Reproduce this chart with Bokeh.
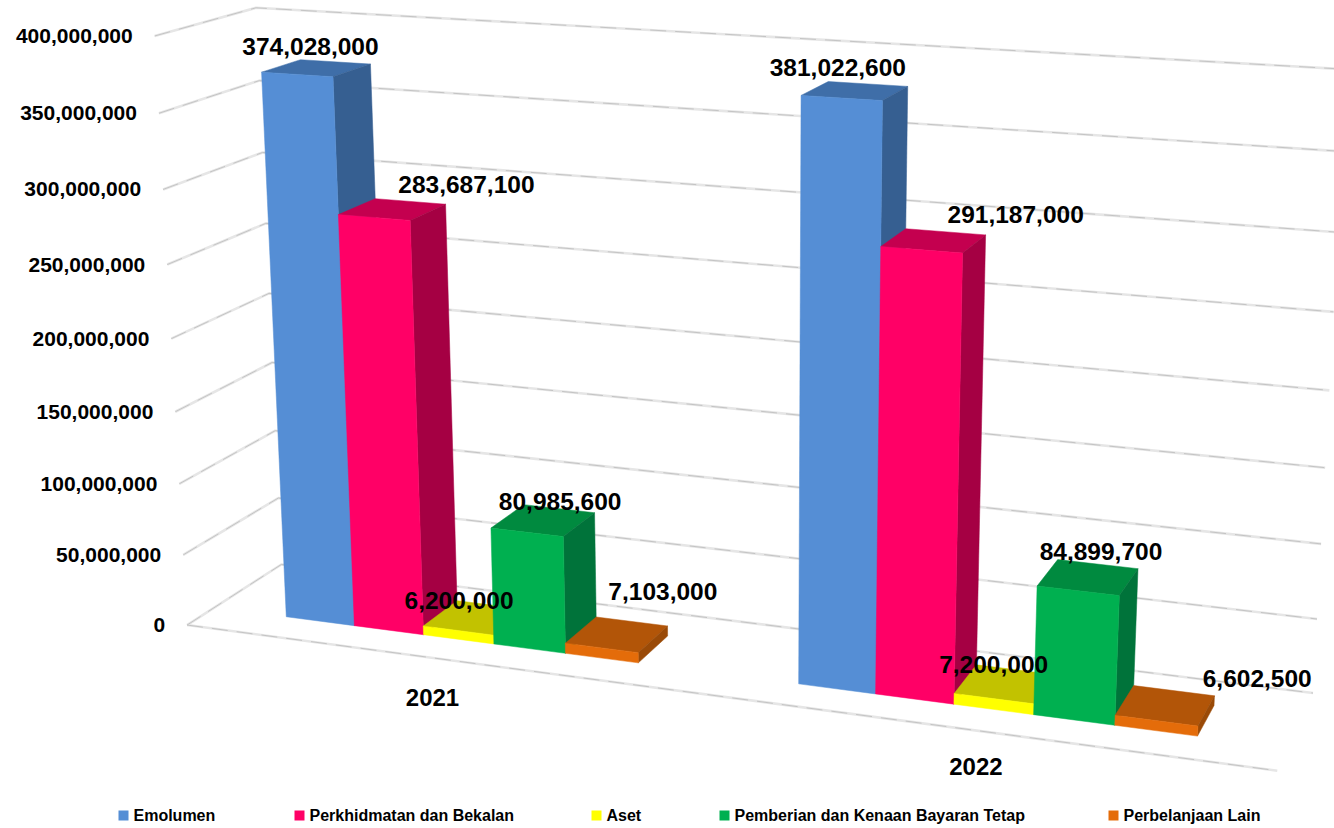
import numpy as np
from bokeh.plotting import figure
from bokeh.models import Range1d
from bokeh.core.properties import value
from bokeh.embed import file_html
from bokeh.resources import INLINE

categories = ["2021", "2022"]
series = ["Emolumen", "Perkhidmatan dan Bekalan", "Aset", "Pemberian dan Kenaan Bayaran Tetap", "Perbelanjaan Lain"]
emolumen = [374028000, 381022600]
perkhidmatan = [283687100, 291187000]
aset = [6200000, 7200000]
pemberian = [80985600, 84899700]
lain = [7103000, 6602500]
all_values = [emolumen, perkhidmatan, aset, pemberian, lain]
ticks = [0, 50000000, 100000000, 150000000, 200000000, 250000000, 300000000, 350000000, 400000000]
y_max = 400000000

front_colors = ["#558ed5", "#ff0066", "#ffff00", "#00b050", "#e46c0a"]
top_colors = ["#3f6ea8", "#c4004f", "#c2c200", "#008a3f", "#b25508"]
side_colors = ["#365f91", "#a50043", "#a5a500", "#00733a", "#9a4a07"]

margin, bar_w = 0.15, 0.14
d0, d1 = 0.28, 0.68

# camera calibration: (category axis, depth, value fraction) -> page pixel
cal_world = [(0, 0, 0), (0, 0, 1), (0, 1, 1), (0, 1, 0), (2, 0, 0), (2, 1, 0), (2, 1, 1),
             (margin, d0, emolumen[0] / y_max), (margin, d0, 0),
             (1 + margin, d0, emolumen[1] / y_max), (1 + margin, d0, 0),
             (1 + margin + 5 * bar_w, d0, 0), (margin + 5 * bar_w, d0, 0)]
cal_page = [(185, 626), (153, 35), (253, 9), (282, 560), (1277, 769), (1314, 696), (1345, 68),
            (264, 72), (287, 617), (803, 94), (798, 685), (1195, 733), (637, 663)]
rows = []
for (a, b, c), (u, v) in zip(cal_world, cal_page):
    rows.append([a, b, c, 1, 0, 0, 0, 0, -u * a, -u * b, -u * c, -u])
    rows.append([0, 0, 0, 0, a, b, c, 1, -v * a, -v * b, -v * c, -v])
P = np.linalg.svd(np.array(rows, float))[2][-1].reshape(3, 4)


def proj(a, d, val):
    h = P @ np.array([a, d, val / y_max, 1.0])
    return h[0] / h[2], h[1] / h[2]


p = figure(width=1334, height=828, output_backend="svg", toolbar_location=None,
           x_range=Range1d(0, 1334), y_range=Range1d(828, 0), min_border=0)
p.axis.visible = False
p.grid.visible = False
p.outline_line_color = None

# gridlines
gx, gy = [], []
for t in ticks:
    pts = [proj(0, 0, t), proj(0, 1, t), proj(2, 1, t)]
    gx.append([q[0] for q in pts])
    gy.append([q[1] for q in pts])
pts = [proj(0, 0, 0), proj(2, 0, 0)]
gx.append([q[0] for q in pts])
gy.append([q[1] for q in pts])
p.multi_line(gx, gy, line_color="#e6e6e6", line_width=2.6)
p.multi_line(gx, gy, line_color="#c4c4c4", line_width=1, line_dash="16 9")

# bars
for g in range(2):
    for s in range(5):
        v = all_values[s][g]
        x0 = g + margin + s * bar_w
        x1 = x0 + bar_w
        faces = [
            ([(x0, d0, v), (x0, d1, v), (x1, d1, v), (x1, d0, v)], top_colors[s]),
            ([(x1, d0, 0), (x1, d1, 0), (x1, d1, v), (x1, d0, v)], side_colors[s]),
            ([(x0, d0, 0), (x1, d0, 0), (x1, d0, v), (x0, d0, v)], front_colors[s]),
        ]
        for corners, col in faces:
            q = [proj(*c) for c in corners]
            p.patch([a[0] for a in q], [a[1] for a in q], fill_color=col, line_color=col, line_width=0.5)

# data labels
label_dx = [[-6, 74, -16, 17, 46], [-17, 82, -11, 13, 92]]
label_dy = [[-22, -25, -17, -19, -43], [-23, -26, -20, -26, -27]]
lx, ly, lt = [], [], []
for g in range(2):
    for s in range(5):
        v = all_values[s][g]
        x0 = g + margin + s * bar_w
        cx, cy = proj(x0 + bar_w / 2, (d0 + d1) / 2, v)
        lx.append(cx + label_dx[g][s])
        ly.append(cy + label_dy[g][s])
        lt.append(f"{v:,}")
FONT = "Liberation Sans"
p.text(lx, ly, text=lt, text_font=value(FONT), text_font_style="bold", text_font_size="24.5px",
       text_align="center", text_baseline="middle", text_color="#000000")

# value-axis labels
p.text([proj(0, 0, t)[0] - 22 for t in ticks], [proj(0, 0, t)[1] for t in ticks], text=[f"{t:,}" for t in ticks],
       text_font=value(FONT), text_font_style="bold", text_font_size="21px",
       text_align="right", text_baseline="middle", text_color="#000000")

# category labels
cat_dy = [39, 36]
cq = [proj(g + 0.5, 0, 0) for g in range(2)]
p.text([q[0] - 2 for q in cq], [q[1] + cat_dy[i] for i, q in enumerate(cq)], text=categories, text_font=value(FONT),
       text_font_style="bold", text_font_size="24px", text_align="center", text_baseline="middle", text_color="#000000")

# legend
legend_x = [123, 299, 596, 724, 1113]
legend_y = 815
p.scatter(legend_x, [legend_y] * 5, marker="square", size=10, fill_color=front_colors, line_color=None)
p.text([x + 10 for x in legend_x], [legend_y] * 5, text=series, text_font=value(FONT), text_font_style="bold",
       text_font_size="16px", text_align="left", text_baseline="middle", text_color="#000000")

open("out.html", "w").write(file_html(p, INLINE))
